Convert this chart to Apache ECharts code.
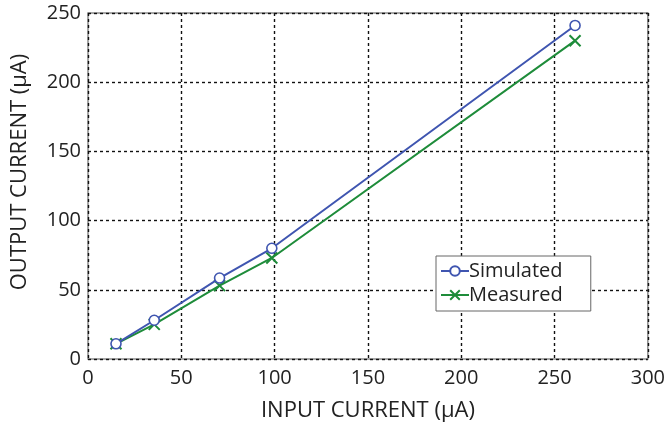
<!DOCTYPE html>
<html><head><meta charset="utf-8">
<script src="https://cdn.jsdelivr.net/npm/echarts@6/dist/echarts.min.js"></script>
<style>html,body{margin:0;padding:0;background:#fff}#c{width:668px;height:427px}</style>
</head><body><div id="c"></div>
<script>
const inputCurrent = [15, 35.5, 70.5, 98.5, 261];
const simulated = [11, 28, 58.5, 80, 241];
const measured = [11, 25, 53, 73, 230];
const seriesNames = ['Simulated', 'Measured'];
const xTitle = 'INPUT CURRENT (μA)';
const yTitle = 'OUTPUT CURRENT (μA)';

const font = '"Open Sans", "Noto Sans", sans-serif';
const chart = echarts.init(document.getElementById('c'));
chart.setOption({
  animation:false,
  grid:{left:88, right:18, top:13, bottom:67, show:true, borderColor:'#8a8a8a', borderWidth:1.5},
  xAxis:{type:'value', min:0, max:300, interval:50,
    name:xTitle, nameLocation:'middle', nameGap:41,
    nameTextStyle:{fontFamily:font, fontSize:22, color:'#222'},
    axisLine:{show:false}, axisTick:{show:false},
    axisLabel:{fontFamily:font, fontSize:20, color:'#222', margin:9},
    splitLine:{show:true, lineStyle:{type:[3,3], color:'#111', width:1.4}}},
  yAxis:{type:'value', min:0, max:250, interval:50,
    name:yTitle, nameLocation:'middle', nameGap:57,
    nameTextStyle:{fontFamily:font, fontSize:22, color:'#222', padding:[0,0,0,28]},
    axisLine:{show:false}, axisTick:{show:false},
    axisLabel:{fontFamily:font, fontSize:20, color:'#222', margin:7},
    splitLine:{show:true, lineStyle:{type:[3,3], color:'#111', width:1.4}}},
  legend:{orient:'vertical', left:436, top:256, width:154,
    backgroundColor:'#fff', borderColor:'#666', borderWidth:1,
    padding:[5,28,6,4], itemGap:4, itemWidth:28, itemHeight:12,
    textStyle:{fontFamily:font, fontSize:20, color:'#222', padding:[0,0,0,-5]},
    data:[{name:seriesNames[0]},{name:seriesNames[1]}]},
  series:[
    {name:seriesNames[0], type:'line', data:inputCurrent.map((x,i)=>[x,simulated[i]]),
     symbol:'circle', symbolSize:10, showAllSymbol:true,
     itemStyle:{color:'#fff', borderColor:'#3f55b0', borderWidth:1.6},
     lineStyle:{color:'#3f55b0', width:2}, z:3},
    {name:seriesNames[1], type:'line', data:inputCurrent.map((x,i)=>[x,measured[i]]),
     symbol:'path://M0,0L10,10M10,0L0,10', symbolSize:11,
     itemStyle:{color:'none', borderColor:'#1e8c3a', borderWidth:2},
     lineStyle:{color:'#1e8c3a', width:2}, z:2}
  ]
});
</script></body></html>
